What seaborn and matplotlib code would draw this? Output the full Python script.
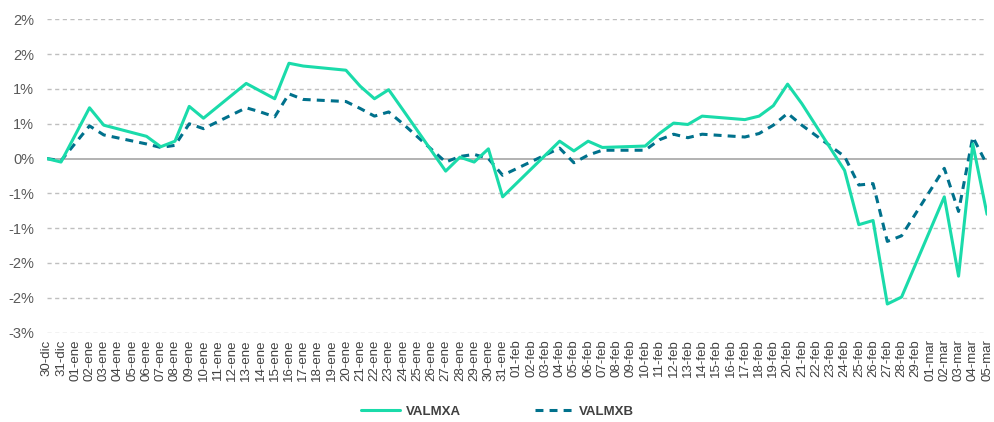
import numpy as np
import pandas as pd
import matplotlib
matplotlib.use("Agg")
import matplotlib.pyplot as plt
import seaborn as sns

# trading days shown on the chart
fechas = ["2019-12-30", "2019-12-31",
          "2020-01-02", "2020-01-03", "2020-01-06", "2020-01-07", "2020-01-08", "2020-01-09",
          "2020-01-10", "2020-01-13", "2020-01-14", "2020-01-15", "2020-01-16", "2020-01-17",
          "2020-01-20", "2020-01-21", "2020-01-22", "2020-01-23", "2020-01-24", "2020-01-27",
          "2020-01-28", "2020-01-29", "2020-01-30", "2020-01-31",
          "2020-02-04", "2020-02-05", "2020-02-06", "2020-02-07", "2020-02-10", "2020-02-11",
          "2020-02-12", "2020-02-13", "2020-02-14", "2020-02-17", "2020-02-18", "2020-02-19",
          "2020-02-20", "2020-02-21", "2020-02-24", "2020-02-25", "2020-02-26", "2020-02-27",
          "2020-02-28",
          "2020-03-02", "2020-03-03", "2020-03-04", "2020-03-05"]

# returns in %
valmxa = [0.00, -0.05,
          0.73, 0.48, 0.32, 0.17, 0.25, 0.75,
          0.58, 1.08, 0.97, 0.86, 1.37, 1.33,
          1.27, 1.04, 0.86, 0.99, 0.70, -0.18,
          0.02, -0.05, 0.14, -0.55,
          0.25, 0.11, 0.25, 0.16, 0.18, 0.36,
          0.51, 0.49, 0.61, 0.56, 0.61, 0.76,
          1.07, 0.79, -0.17, -0.95, -0.89, -2.09,
          -1.99,
          -0.55, -1.69, 0.21, -0.80]

valmxb = [0.00, -0.03,
          0.47, 0.34, 0.21, 0.16, 0.19, 0.50,
          0.43, 0.73, 0.67, 0.60, 0.93, 0.85,
          0.82, 0.72, 0.61, 0.67, 0.50, -0.05,
          0.03, 0.06, 0.00, -0.24,
          0.15, -0.06, 0.05, 0.12, 0.12, 0.27,
          0.35, 0.30, 0.35, 0.31, 0.36, 0.48,
          0.65, 0.48, 0.03, -0.38, -0.36, -1.19,
          -1.11,
          -0.14, -0.76, 0.31, -0.09]

meses = {12: "dic", 1: "ene", 2: "feb", 3: "mar"}
dias = pd.date_range("2019-12-30", "2020-03-05", freq="D")
etiquetas = [f"{d.day:02d}-{meses[d.month]}" for d in dias]

df = pd.DataFrame({"fecha": pd.to_datetime(fechas), "VALMXA": valmxa, "VALMXB": valmxb})

sns.set_style("white")
plt.rcParams["font.family"] = ["Liberation Sans", "DejaVu Sans"]

fig, ax = plt.subplots(figsize=(9.95, 4.22), dpi=100)
fig.subplots_adjust(left=0.047, right=0.992, top=0.954, bottom=0.212)

verde = "#1ADBAA"
azul = "#00718C"

# grid first so lines sit on top
for v in np.arange(-2.5, 2.01, 0.5):
    if abs(v) < 1e-9:
        ax.axhline(0, color="#A6A6A6", lw=1.2, zorder=1)
    else:
        ax.axhline(v, color="#BFBFBF", lw=1.0, ls=(0, (3, 2.5)), zorder=1)

sns.lineplot(data=df, x="fecha", y="VALMXA", ax=ax, color=verde, lw=2.2, label="VALMXA", zorder=3)
sns.lineplot(data=df, x="fecha", y="VALMXB", ax=ax, color=azul, lw=2.2, label="VALMXB", zorder=2)
ax.lines[-1].set_dashes((2.6, 2.0))

ax.set_xlim(dias[0], dias[-1])
ax.set_ylim(-2.5, 2.0)
ax.set_yticks(np.arange(-2.5, 2.01, 0.5))
ax.set_yticklabels([f"{int(np.sign(v) * np.floor(abs(v) + 0.5))}%" for v in np.arange(-2.5, 2.01, 0.5)])
ax.set_xticks(dias)
ax.set_xticklabels(etiquetas, rotation=90)
ax.tick_params(axis="y", labelsize=10.5, labelcolor="#595959", length=0, pad=9)
ax.tick_params(axis="x", labelsize=9.5, labelcolor="#404040", length=0, pad=5)
ax.set_xlabel("")
ax.set_ylabel("")
sns.despine(ax=ax, left=True, bottom=True)

ax.get_legend().remove()
leg = fig.legend(*ax.get_legend_handles_labels(), loc="center", bbox_to_anchor=(0.5, 0.024),
                 ncol=2, frameon=False, handlelength=2.9, columnspacing=5.6, handletextpad=0.45,
                 prop={"size": 9.5, "weight": "bold"})
for t in leg.get_texts():
    t.set_color("#404040")

fig.savefig("out.png", dpi=100)
